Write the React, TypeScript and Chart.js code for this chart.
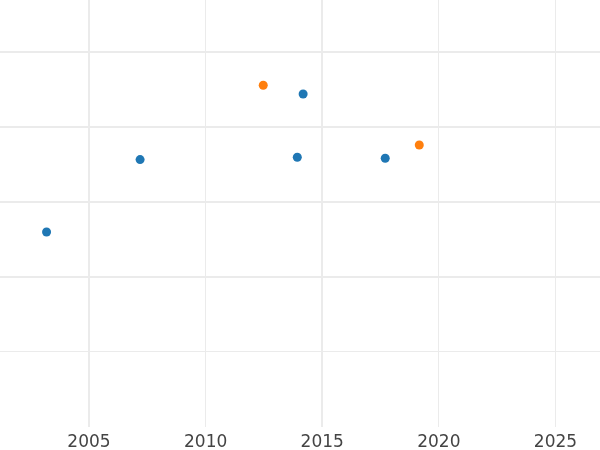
import React, { useEffect, useRef } from "react";
import { Chart, registerables } from "chart.js";

Chart.register(...registerables);

const seriesAYears = [2003.18, 2007.19, 2013.93, 2014.18, 2017.7];
const seriesAValues = [2.6, 3.565, 3.596, 4.44, 3.583];
const seriesBYears = [2012.47, 2019.16];
const seriesBValues = [4.556, 3.76];
const xTickValues = [2005, 2010, 2015, 2020, 2025];
const yTickValues = [1, 2, 3, 4, 5];
const xThick = [2005, 2015];
const yThick = [2, 3, 4, 5];

export default function App() {
  const ref = useRef<HTMLCanvasElement | null>(null);
  useEffect(() => {
    document.body.style.margin = "0";
    const ctx = ref.current!;
    const chart = new Chart(ctx, {
      type: "scatter",
      data: {
        datasets: [
          {
            label: "A",
            data: seriesAYears.map((x, i) => ({ x, y: seriesAValues[i] })),
            backgroundColor: "#1f77b4",
            borderColor: "#1f77b4",
            pointRadius: 4.5,
            borderWidth: 0,
          },
          {
            label: "B",
            data: seriesBYears.map((x, i) => ({ x, y: seriesBValues[i] })),
            backgroundColor: "#ff7f0e",
            borderColor: "#ff7f0e",
            pointRadius: 4.5,
            borderWidth: 0,
          },
        ],
      },
      options: {
        animation: false,
        responsive: false,
        maintainAspectRatio: false,
        layout: { padding: 0, autoPadding: false },
        plugins: { legend: { display: false }, tooltip: { enabled: false } },
        scales: {
          x: {
            type: "linear",
            min: 2001.184,
            max: 2026.908,
            afterBuildTicks: (axis: any) => {
              axis.ticks = xTickValues.map((v) => ({ value: v }));
            },
            afterFit: (axis: any) => {
              axis.height = 23;
            },
            border: { display: false },
            grid: {
              drawTicks: false,
              color: "#ebebeb",
              lineWidth: (c: any) => (xThick.includes(c.tick?.value) ? 2 : 1),
            },
            ticks: {
              padding: 5,
              color: "#444444",
              font: { family: "DejaVu Sans", size: 17 },
              callback: (v: any) => String(v),
            },
          },
          y: {
            type: "linear",
            min: 0,
            max: 5.693,
            afterBuildTicks: (axis: any) => {
              axis.ticks = yTickValues.map((v) => ({ value: v }));
            },
            border: { display: false },
            grid: {
              drawTicks: false,
              color: "#ebebeb",
              lineWidth: (c: any) => (yThick.includes(c.tick?.value) ? 2 : 1),
            },
            ticks: { display: false },
          },
        },
      },
    });
    return () => chart.destroy();
  }, []);
  return (
    <div style={{ position: "absolute", left: 0, top: 0, width: 600, height: 450 }}>
      <canvas ref={ref} width={600} height={450} />
    </div>
  );
}
